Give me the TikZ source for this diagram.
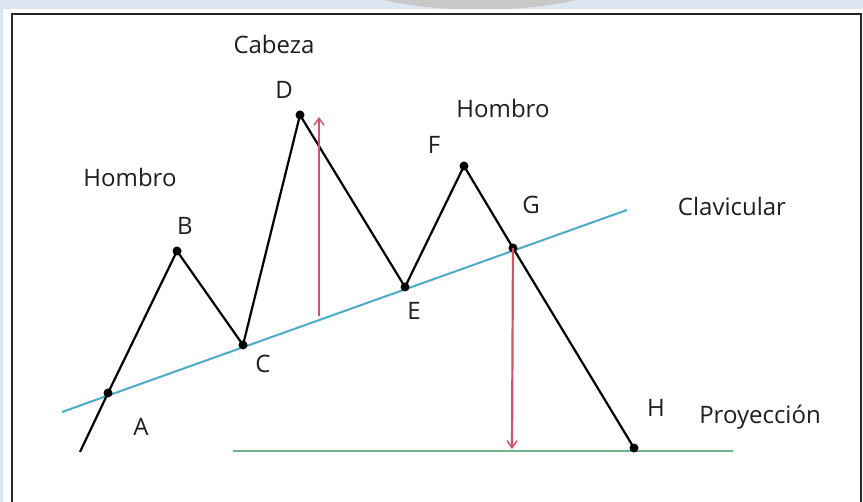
\documentclass[tikz,border=0pt]{standalone}
\usepackage{fontspec}
\setmainfont{Open Sans}
\usetikzlibrary{arrows.meta}
\definecolor{bgblue}{HTML}{DCE6F2}
\definecolor{swoosh}{HTML}{C8C8C8}
\definecolor{neck}{HTML}{4BACC6}
\definecolor{proj}{HTML}{6DB58A}
\definecolor{arrowred}{HTML}{D05468}
\definecolor{txt}{HTML}{1E1E1E}
\tikzset{
  pt/.style={circle,fill=black,inner sep=0pt,minimum size=9pt},
  lbl/.style={text=txt,font=\fontsize{24}{28}\selectfont,inner sep=0pt,anchor=center},
  price/.style={black,line width=2.2pt,line join=round},
  measure/.style={arrowred,line width=2.2pt,-{Straight Barb[length=7pt,width=10pt,line width=1.5pt]}}
}
\begin{document}
\begin{tikzpicture}[x=1pt,y=-1pt]
\useasboundingbox (0,0) rectangle (863,502);
\fill[bgblue] (0,0) rectangle (863,502);
\begin{scope}
\clip (0,0) rectangle (863,9);
\fill[swoosh] (480,-120) ellipse [x radius=250, y radius=130];
\fill[bgblue] (270,-60) ellipse [x radius=40, y radius=70];
\end{scope}
\fill[white] (3,9) rectangle (863,502);
\draw[line width=2.2pt,black!85] (12,502) -- (12,14) -- (861,14) -- (861,502);
% lines
\draw[neck,line width=2pt] (62,412) -- (627,210);
\draw[proj,line width=2.2pt] (233,451) -- (733,451);
% points
\coordinate (start) at (80,452);
\node[pt] (A) at (108,393) {};
\node[pt] (B) at (177,251) {};
\node[pt] (C) at (243,345) {};
\node[pt] (D) at (300,115) {};
\node[pt] (E) at (405,287) {};
\node[pt] (F) at (464,166) {};
\node[pt] (G) at (513,248) {};
\node[pt] (H) at (634,448) {};
\draw[price] (start) -- (A.center) -- (B.center) -- (C.center) -- (D.center) -- (E.center) -- (F.center) -- (G.center) -- (H.center);
% arrows
\coordinate (up0) at (319,316);
\coordinate (up1) at (319,117);
\coordinate (dn1) at (512,449);
\draw[measure] (up0) -- (up1);
\draw[measure] (G.center) -- (dn1);
% labels
\node[lbl] (tCab) at (274,45) {Cabeza};
\node[lbl] (tD) at (284,90) {D};
\node[lbl] (tH1) at (130,178) {Hombro};
\node[lbl] (tB) at (185,226) {B};
\node[lbl] (tH2) at (503,109) {Hombro};
\node[lbl] (tF) at (434,145) {F};
\node[lbl] (tG) at (531,205) {G};
\node[lbl] (tCl) at (732,207) {Clavicular};
\node[lbl] (tE) at (414,311) {E};
\node[lbl] (tC) at (263,364) {C};
\node[lbl] (tA) at (141,427) {A};
\node[lbl] (tHH) at (656,408) {H};
\node[lbl] (tP) at (760,417) {Proyección};
\end{tikzpicture}
\end{document}
